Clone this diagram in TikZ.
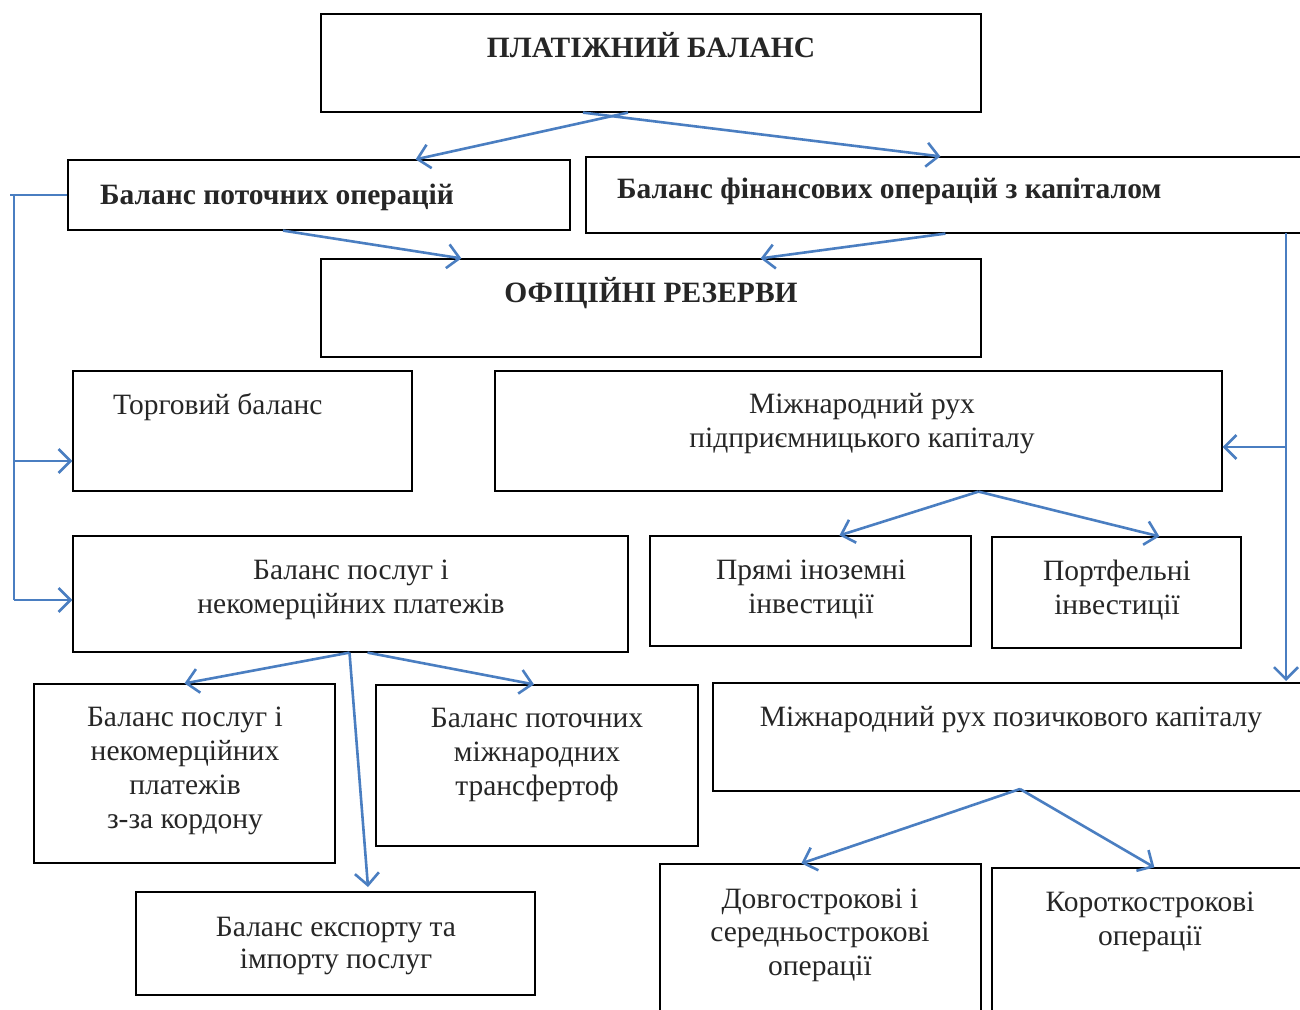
\documentclass[tikz,border=0pt]{standalone}
\usepackage{fontspec}
\setmainfont{Liberation Serif}
\usetikzlibrary{arrows.meta}
\definecolor{arrblue}{RGB}{74,126,193}
\tikzset{
  box/.style={draw=black, line width=1.2pt, rectangle, inner sep=0pt},
  lbl/.style={font=\fontsize{29.5}{34}\selectfont, inner sep=0pt, align=center, anchor=base, text=black!85},
  blbl/.style={font=\fontsize{29.5}{34}\selectfont\bfseries, inner sep=0pt, anchor=base, text=black!85},
  conn/.style={draw=arrblue, line width=2.6pt},
  arr/.style={conn, -{Straight Barb[length=12pt,width=24pt,line width=2.6pt]}}
}
\newcommand{\mkbox}[5]{\node[box, minimum width={#4-#2}, minimum height={#5-#3}] (#1) at ({(#2+#4)/2},{(#3+#5)/2}) {};}
\begin{document}
\begin{tikzpicture}[x=1pt,y=-1pt]
\useasboundingbox (0,0) rectangle (1300,1009);
\clip (0,0) rectangle (1300,1009);
\fill[white] (0,0) rectangle (1300,1009);
% boxes
\mkbox{pb}{321}{14}{981}{112}
\mkbox{bpo}{68}{160}{570}{230}
\mkbox{bfo}{586}{157}{1340}{233}
\mkbox{or}{321}{259}{981}{357}
\mkbox{tb}{73}{371}{412}{491}
\mkbox{mrp}{495}{371}{1222}{491}
\mkbox{bpn}{73}{536}{628}{652}
\mkbox{pii}{650}{536}{971}{646}
\mkbox{pfi}{992}{537}{1241}{648}
\mkbox{bpz}{34}{684}{335}{863}
\mkbox{bpt}{376}{685}{698}{846}
\mkbox{mrk}{713}{683}{1340}{791}
\mkbox{bei}{136}{892}{535}{995}
\mkbox{dso}{660}{864}{981}{1040}
\mkbox{kso}{992}{868}{1340}{1040}
% texts
\node[blbl] (t1) at (651,57) {ПЛАТІЖНИЙ БАЛАНС};
\node[blbl, anchor=base west] (t2) at (100,204) {Баланс поточних операцій};
\node[blbl, anchor=base west] (t3) at (617,198) {Баланс фінансових операцій з капіталом};
\node[blbl] (t4) at (651,302) {ОФІЦІЙНІ РЕЗЕРВИ};
\node[lbl, anchor=base west] (t5) at (113,414) {Торговий баланс};
\node[lbl] (t6) at (862,447) {Міжнародний рух\\підприємницького капіталу};
\node[lbl] (t7) at (351,613) {Баланс послуг і\\некомерційних платежів};
\node[lbl] (t8) at (811,613) {Прямі іноземні\\інвестиції};
\node[lbl] (t9) at (1117,614) {Портфельні\\інвестиції};
\node[lbl] (t10) at (185,828) {Баланс послуг і\\некомерційних\\платежів\\з-за кордону};
\node[lbl] (t11) at (537,795) {Баланс поточних\\міжнародних\\трансфертоф};
\node[lbl] (t12) at (1011,726) {Міжнародний рух позичкового капіталу};
\node[lbl, font=\fontsize{29.5}{32}\selectfont] (t13) at (336,968) {Баланс експорту та\\імпорту послуг};
\node[lbl, font=\fontsize{29.5}{33.5}\selectfont] (t14) at (820,975) {Довгострокові і\\середньострокові\\операції};
\node[lbl] (t15) at (1150,945) {Короткострокові\\операції};
% connectors
\draw[arr] ([xshift=-23pt]pb.south) -- ([xshift=-155pt]bpo.north east);
\draw[arr] ([xshift=-68pt]pb.south) -- ([xshift=355pt]bfo.north west);
\draw[arr] ([xshift=-36pt]bpo.south) -- ([xshift=141pt]or.north west);
\draw[arr] ([xshift=360pt]bfo.south west) -- ([xshift=-221pt]or.north east);
% left bracket
\coordinate (lt) at (10,195);
\coordinate (lv) at (14,195);
\coordinate (lb) at (14,600);
\draw[conn] (bpo.west |- lt) -- (lt);
\draw[conn] (lv) -- (lb);
\draw[arr] (14,461) -- (tb.west |- 0,461);
\draw[arr] (lb) -- (bpn.west |- lb);
% right bracket
\coordinate (rv) at (1286,447);
\draw[arr] (1286,233) -- (1286,681);
\draw[arr] (rv) -- (mrp.east |- rv);
% from mrp
\draw[arr] ([xshift=120pt]mrp.south) -- ([xshift=190pt]pii.north west);
\draw[arr] ([xshift=120pt]mrp.south) -- ([xshift=168pt]pfi.north west);
% from bpn
\draw[arr] ([xshift=-1pt]bpn.south) -- (bpz.north);
\draw[arr] ([xshift=17pt]bpn.south) -- ([xshift=-3pt]bpt.north);
\draw[arr] ([xshift=-1pt]bpn.south) -- (368,887);
% from mrk
\draw[arr] (1020,789) -- ([xshift=142pt]dso.north west);
\draw[arr] (1020,789) -- ([xshift=163pt]kso.north west);
\end{tikzpicture}
\end{document}
